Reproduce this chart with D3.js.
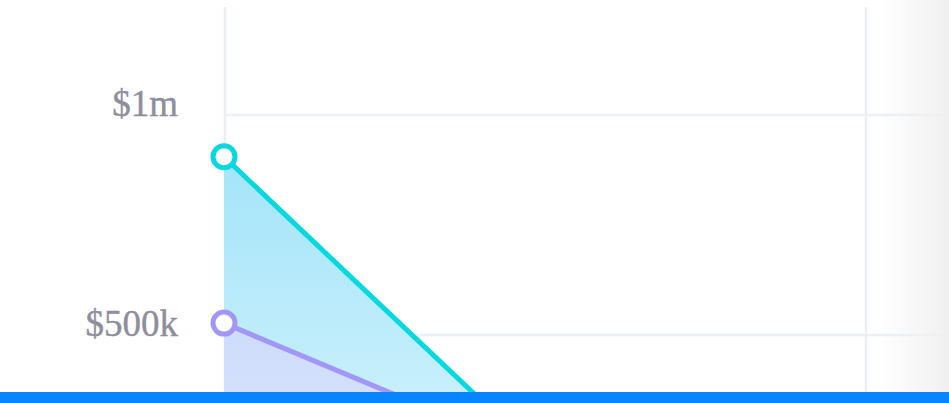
<!DOCTYPE html>
<html lang="en">
    <head>
        <title>area chart</title>
        <meta charset="UTF-8">
        <style>
            html, body { margin: 0; padding: 0; background: #fff; overflow: hidden; }
        </style>
        <script src="https://d3js.org/d3.v7.min.js"></script>
    </head>
    <body>
        <script>
            const width = 949
            const height = 403

            // data
            var periods = ["P1", "P2", "P3"]
            var revenue = [905000, 215000]
            var cost = [527000, 222000]
            var yTicks = [500000, 1000000]
            var yTickLabels = ["$500k", "$1m"]

            var x = d3.scaleLinear().domain([0, 2]).range([224, 865])
            var y = d3.scaleLinear().domain([0, 1000000]).range([555, 115])

            var svg = d3.select("body")
                .append("svg")
                .attr("width", width)
                .attr("height", height)

            var defs = svg.append("defs")
            var g1 = defs.append("linearGradient").attr("id", "fillCyan")
                .attr("x1", 0).attr("y1", 0).attr("x2", 0).attr("y2", 1)
            g1.append("stop").attr("offset", "0%").attr("stop-color", "#a3e4f9")
            g1.append("stop").attr("offset", "100%").attr("stop-color", "#e0f7fd")
            var g2 = defs.append("linearGradient").attr("id", "fillPurple")
                .attr("x1", 0).attr("y1", 0).attr("x2", 0).attr("y2", 1)
            g2.append("stop").attr("offset", "0%").attr("stop-color", "#cddcfb")
            g2.append("stop").attr("offset", "100%").attr("stop-color", "#dfe9fd")
            var fade = defs.append("linearGradient").attr("id", "fade")
                .attr("x1", 0).attr("y1", 0).attr("x2", 1).attr("y2", 0)
            fade.append("stop").attr("offset", "0%").attr("stop-color", "#f0f0f0").attr("stop-opacity", 0)
            fade.append("stop").attr("offset", "100%").attr("stop-color", "#f0f0f0").attr("stop-opacity", 1)

            // grid
            svg.selectAll(".hgrid")
                .data(yTicks)
                .enter()
                .append("line")
                .attr("x1", x(0)).attr("x2", width)
                .attr("y1", function(d){ return y(d) })
                .attr("y2", function(d){ return y(d) })
                .attr("stroke", "#ebf0f5")
                .attr("stroke-width", 2.5)

            svg.selectAll(".vgrid")
                .data([0, 2])
                .enter()
                .append("line")
                .attr("x1", function(d){ return x(d) + 1 })
                .attr("x2", function(d){ return x(d) + 1 })
                .attr("y1", 7).attr("y2", height)
                .attr("stroke", "#ebf0f5")
                .attr("stroke-width", 2.5)

            // y labels
            svg.selectAll(".ylab")
                .data(yTicks)
                .enter()
                .append("text")
                .attr("x", 178)
                .attr("y", function(d){ return y(d) + 1 })
                .attr("text-anchor", "end")
                .attr("fill", "#8e8e9c")
                .attr("stroke", "#8e8e9c")
                .attr("stroke-width", 0.4)
                .style("font-family", "'Liberation Serif', 'DejaVu Serif', serif")
                .style("font-size", "37px")
                .text(function(d, i){ return yTickLabels[i] })

            var area = function(vals){
                return d3.area()
                    .x(function(d, i){ return x(i) })
                    .y0(y(0))
                    .y1(function(d){ return y(d) })(vals)
            }
            var line = d3.line()
                .x(function(d, i){ return x(i) })
                .y(function(d){ return y(d) })

            svg.append("path").attr("d", area(revenue)).attr("fill", "url(#fillCyan)")
            svg.append("path").attr("d", area(cost)).attr("fill", "url(#fillPurple)")

            var series = [
                { vals: cost, color: "#a297f6" },
                { vals: revenue, color: "#06d8e0" }
            ]
            series.forEach(function(s){
                svg.append("path")
                    .attr("d", line(s.vals))
                    .attr("fill", "none")
                    .attr("stroke", s.color)
                    .attr("stroke-width", 5)
                svg.append("circle")
                    .attr("cx", x(0))
                    .attr("cy", y(s.vals[0]))
                    .attr("r", 11)
                    .attr("fill", "#fff")
                    .attr("stroke", s.color)
                    .attr("stroke-width", 5)
            })

            // right edge fade
            svg.append("rect")
                .attr("x", 878).attr("y", 0)
                .attr("width", width - 878).attr("height", height)
                .attr("fill", "url(#fade)")

            // bottom bar
            svg.append("rect")
                .attr("x", 0).attr("y", 392)
                .attr("width", width).attr("height", height - 392)
                .attr("fill", "#0984ff")
        </script>
    </body>
</html>
